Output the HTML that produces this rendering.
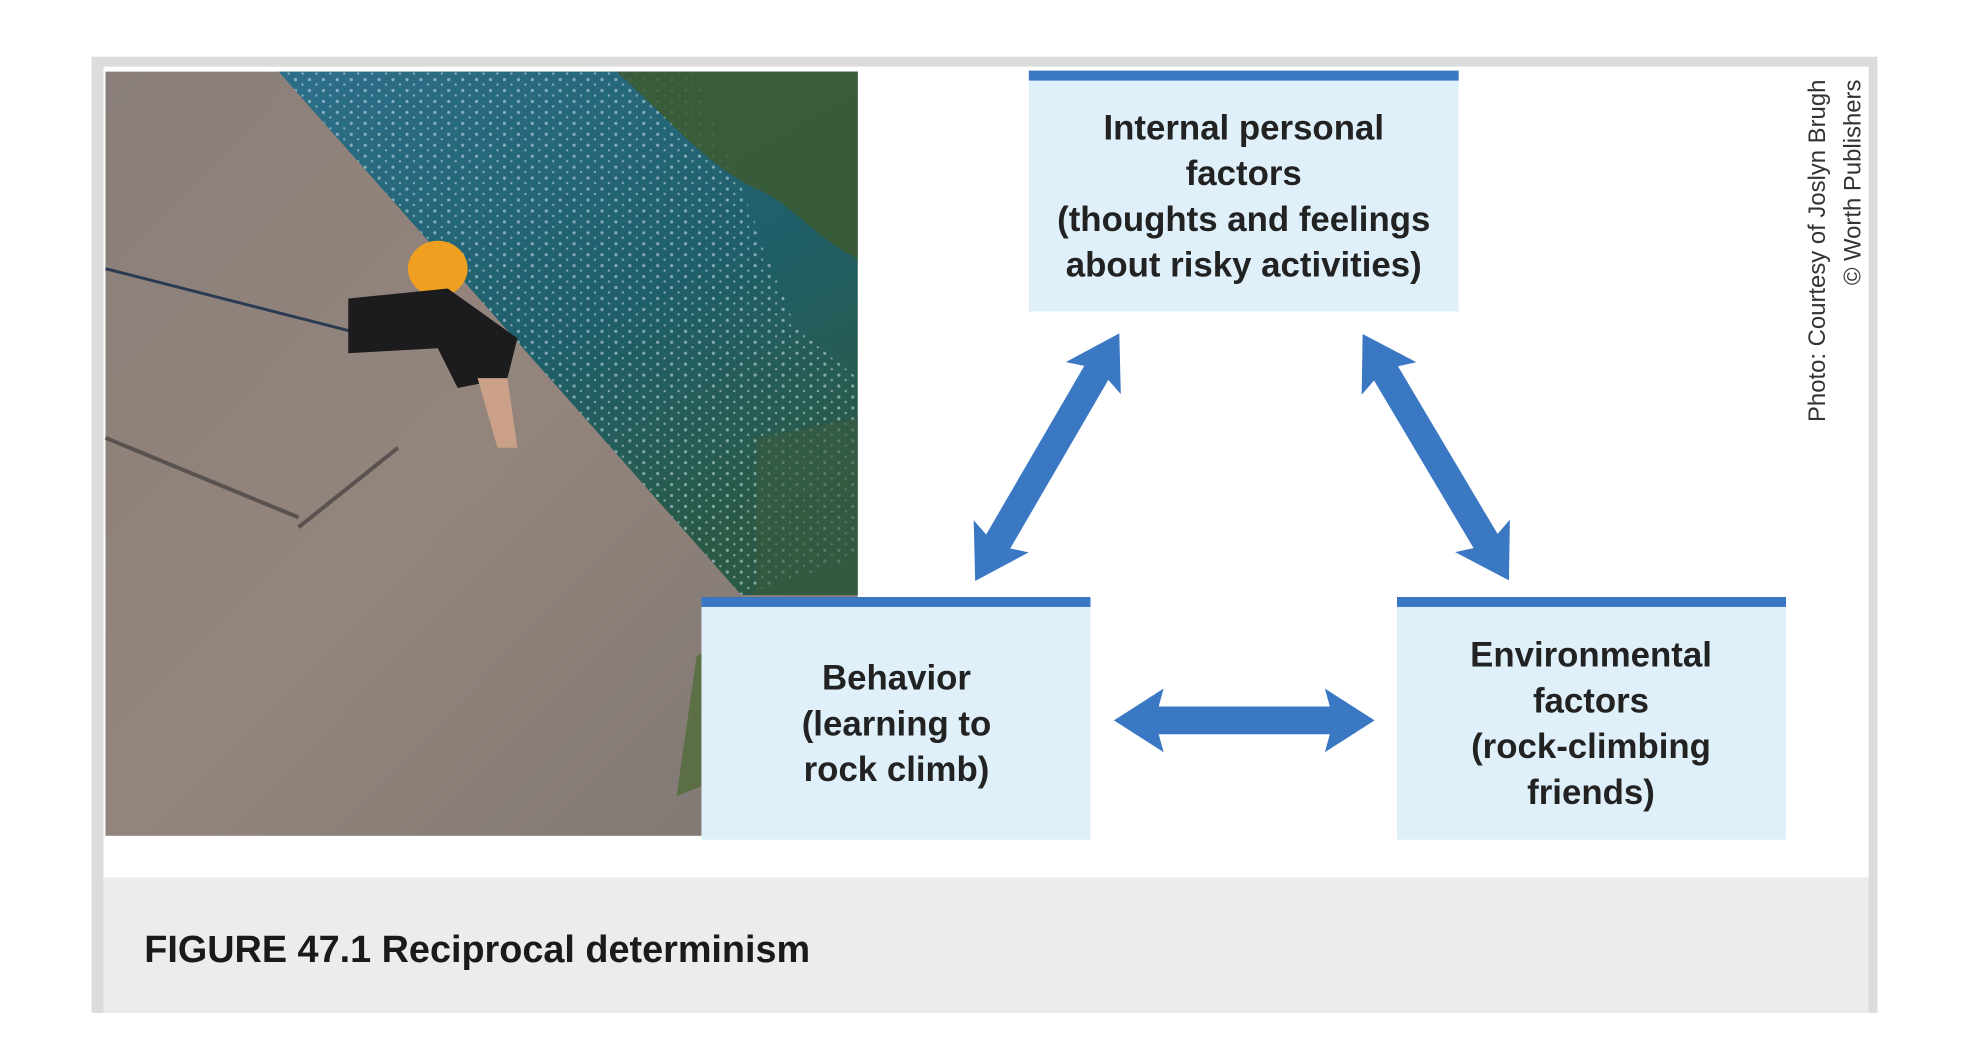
<!DOCTYPE html>
<html><head><meta charset="utf-8"><style>
html,body{margin:0;padding:0;background:#fff;}
svg{display:block}
</style></head><body>
<svg width="1972" height="1057" viewBox="0 0 1972 1057" xmlns="http://www.w3.org/2000/svg">
<defs>
<linearGradient id="rock" x1="0" y1="0" x2="1" y2="1">
<stop offset="0" stop-color="#8a7f7a"/><stop offset="0.5" stop-color="#94857c"/><stop offset="1" stop-color="#7d7673"/>
</linearGradient>
<linearGradient id="water" x1="0" y1="0" x2="0.6" y2="1">
<stop offset="0" stop-color="#2d6f8a"/><stop offset="0.6" stop-color="#1f5f6a"/><stop offset="1" stop-color="#2a5a45"/>
</linearGradient>
<pattern id="spark" width="14" height="11" patternUnits="userSpaceOnUse">
<circle cx="3" cy="3" r="1.6" fill="#cfe3ee" opacity="0.7"/><circle cx="10" cy="8" r="1.2" fill="#e8f2f7" opacity="0.6"/>
</pattern>
</defs>
<rect x="0" y="0" width="1972" height="1057" fill="#fff"/>
<g transform="scale(0.995)">
<rect x="92" y="57" width="1795" height="961" fill="#dcdcdc"/>
<rect x="104" y="67" width="1774" height="815" fill="#fff"/>
<rect x="104" y="882" width="1774" height="136" fill="#ececec"/>
<!-- photo -->
<rect x="106" y="72" width="756" height="768" fill="url(#rock)"/>
<polygon points="280,72 862,72 862,598 745,598" fill="url(#water)"/>
<polygon points="280,72 700,72 800,330 862,380 862,560 745,598" fill="url(#spark)" opacity="0.8"/>
<path d="M620,72 L862,72 L862,260 C820,240 790,200 760,190 C720,170 690,140 660,110 Z" fill="#3d5a30" opacity="0.85"/>
<path d="M760,440 L862,420 L862,598 L760,598 Z" fill="#3b5a40" opacity="0.6"/>
<path d="M106,270 L420,350" stroke="#2a3a50" stroke-width="3"/>
<path d="M106,440 L300,520 M300,530 L400,450" stroke="#5a5250" stroke-width="4" fill="none"/>
<ellipse cx="440" cy="270" rx="30" ry="28" fill="#f0a020"/>
<path d="M350,300 L450,290 L520,340 L510,380 L460,390 L440,350 L350,355 Z" fill="#1c1c1e"/>
<path d="M480,380 L500,450 L520,450 L510,380 Z" fill="#caa088"/>
<path d="M700,660 C720,640 760,700 730,780 L680,800 Z" fill="#4a6a30" opacity="0.7"/>
<!-- boxes -->
<rect x="1034" y="71" width="432" height="242" fill="#dff0fb"/>
<rect x="1034" y="71" width="432" height="10" fill="#3b78c4"/>
<rect x="705" y="600" width="391" height="244" fill="#dff0fb"/>
<rect x="705" y="600" width="391" height="10" fill="#3b78c4"/>
<rect x="1404" y="600" width="391" height="244" fill="#dff0fb"/>
<rect x="1404" y="600" width="391" height="10" fill="#3b78c4"/>
<g font-family="Liberation Sans, sans-serif" font-weight="bold" font-size="35" fill="#222" text-anchor="middle">
<text x="1250" y="140">Internal personal</text>
<text x="1250" y="186">factors</text>
<text x="1250" y="232">(thoughts and feelings</text>
<text x="1250" y="278">about risky activities)</text>
<text x="901" y="693">Behavior</text>
<text x="901" y="739">(learning to</text>
<text x="901" y="785">rock climb)</text>
<text x="1599" y="670">Environmental</text>
<text x="1599" y="716">factors</text>
<text x="1599" y="762">(rock-climbing</text>
<text x="1599" y="808">friends)</text>
</g>
<!-- arrows -->
<g fill="#3b78c4">
<g transform="translate(1052.5,459.5) rotate(-59.8)">
<polygon points="-144,0 -92,-32 -98,-14 98,-14 92,-32 144,0 92,32 98,14 -98,14 -92,32"/>
</g>
<g transform="translate(1443,459.5) rotate(59.3)">
<polygon points="-144,0 -92,-32 -98,-14 98,-14 92,-32 144,0 92,32 98,14 -98,14 -92,32"/>
</g>
<g transform="translate(1250.5,724)">
<polygon points="-131,0 -81,-32 -86,-14 86,-14 81,-32 131,0 81,32 86,14 -86,14 -81,32"/>
</g>
</g>
<!-- credit -->
<g font-family="Liberation Sans, sans-serif" font-size="24" fill="#333" text-anchor="end">
<text transform="translate(1834,80) rotate(-90)">Photo: Courtesy of Joslyn Brugh</text>
<text transform="translate(1870,80) rotate(-90)">© Worth Publishers</text>
</g>
<text x="145" y="967" font-family="Liberation Sans, sans-serif" font-weight="bold" font-size="38" fill="#1a1a1a">FIGURE 47.1 Reciprocal determinism</text>
</g>
</svg>
</body></html>
